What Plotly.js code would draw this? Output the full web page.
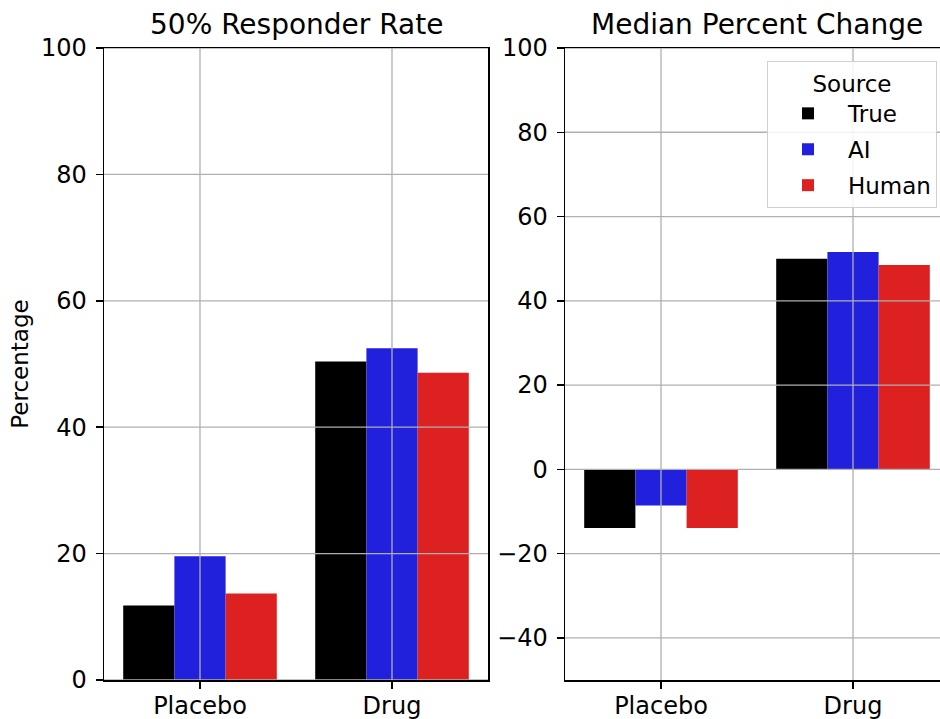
<!DOCTYPE html>
<html>
<head>
<meta charset="utf-8">
<script src="https://cdn.plot.ly/plotly-3.0.1.min.js"></script>
<style>
html,body{margin:0;padding:0;overflow:hidden;background:#fff;}
#chart{width:950px;height:719px;}
</style>
</head>
<body>
<div id="chart"></div>
<script>
// ---- data ----
const categories = ['Placebo', 'Drug'];
const sources = ['True', 'AI', 'Human'];
const responderTrue = [11.8, 50.4];
const responderAI = [19.6, 52.5];
const responderHuman = [13.7, 48.6];
const medianTrue = [-13.9, 50.0];
const medianAI = [-8.6, 51.6];
const medianHuman = [-13.9, 48.5];
const leftTicks = [0, 20, 40, 60, 80, 100];
const rightTicks = [-40, -20, 0, 20, 40, 60, 80, 100];
const colors = ['#000000', '#2020dd', '#dd2020'];

const W = 950, H = 719;
const fontFam = 'DejaVu Sans, sans-serif';
const tickFont = {family: fontFam, size: 24, color: '#000'};

const leftSeries = [responderTrue, responderAI, responderHuman];
const rightSeries = [medianTrue, medianAI, medianHuman];

const traces = [];
sources.forEach((s, i) => {
  traces.push({type: 'bar', x: categories, y: leftSeries[i], name: s,
    marker: {color: colors[i], line: {width: 0}}, xaxis: 'x', yaxis: 'y',
    legendgroup: s, showlegend: false});
});
sources.forEach((s, i) => {
  traces.push({type: 'bar', x: categories, y: rightSeries[i], name: s,
    marker: {color: colors[i], line: {width: 0}}, xaxis: 'x2', yaxis: 'y2',
    legendgroup: s, showlegend: true});
});

const yDom = [(H - 680) / H, (H - 48) / H];
const axBase = {
  showgrid: false, zeroline: false, showline: true, linecolor: '#000', linewidth: 1.5,
  mirror: true, ticks: 'outside', ticklen: 7, tickwidth: 1.5, tickcolor: '#000',
  tickfont: tickFont, fixedrange: true
};

// grid lines drawn above bars (as in the reference)
const shapes = [];
const gridStyle = {color: '#b0b0b0', width: 1.3};
leftTicks.forEach(v => shapes.push({type: 'line', xref: 'x domain', yref: 'y', x0: 0, x1: 1, y0: v, y1: v, line: gridStyle, layer: 'above'}));
rightTicks.forEach(v => shapes.push({type: 'line', xref: 'x2 domain', yref: 'y2', x0: 0, x1: 1, y0: v, y1: v, line: gridStyle, layer: 'above'}));
categories.forEach(c => {
  shapes.push({type: 'line', xref: 'x', yref: 'y domain', x0: c, x1: c, y0: 0, y1: 1, line: gridStyle, layer: 'above'});
  shapes.push({type: 'line', xref: 'x2', yref: 'y2 domain', x0: c, x1: c, y0: 0, y1: 1, line: gridStyle, layer: 'above'});
});

const layout = {
  width: W, height: H,
  margin: {l: 0, r: 0, t: 0, b: 0},
  paper_bgcolor: '#fff', plot_bgcolor: '#fff',
  barmode: 'group', bargap: 0.2, bargroupgap: 0,
  font: {family: fontFam, color: '#000'},
  xaxis: Object.assign({}, axBase, {domain: [104 / W, 488 / W], anchor: 'y', range: [-0.5, 1.5], type: 'category', ticklabelstandoff: -3}),
  yaxis: Object.assign({}, axBase, {domain: yDom, anchor: 'x', range: [0, 100], tickvals: leftTicks, ticklabelstandoff: 4,
    title: {text: 'Percentage', font: {family: fontFam, size: 23, color: '#000'}, standoff: 6}}),
  xaxis2: Object.assign({}, axBase, {domain: [565 / W, 949 / W], anchor: 'y2', range: [-0.5, 1.5], type: 'category', ticklabelstandoff: -3}),
  yaxis2: Object.assign({}, axBase, {domain: yDom, anchor: 'x2', range: [-50, 100], tickvals: rightTicks, ticklabelstandoff: 4}),
  shapes: shapes,
  annotations: [
    {text: '50% Responder Rate', xref: 'paper', yref: 'paper', x: 296 / W, y: (H - 24) / H,
     xanchor: 'center', yanchor: 'middle', showarrow: false, font: {family: fontFam, size: 28, color: '#000'}},
    {text: 'Median Percent Change', xref: 'paper', yref: 'paper', x: 757 / W, y: (H - 24) / H,
     xanchor: 'center', yanchor: 'middle', showarrow: false, font: {family: fontFam, size: 28, color: '#000'}}
  ],
  legend: {
    x: 937 / W, y: (H - 61) / H, xanchor: 'right', yanchor: 'top',
    bgcolor: 'rgba(255,255,255,0.85)', bordercolor: '#d0d0d0', borderwidth: 1,
    font: {family: fontFam, size: 23, color: '#000'},
    title: {text: 'Source', font: {family: fontFam, size: 23, color: '#000'}, side: 'top center'},
    traceorder: 'grouped', tracegroupgap: 3, itemwidth: 70,
    itemclick: false, itemdoubleclick: false
  }
};

Plotly.newPlot('chart', traces, layout, {displayModeBar: false, staticPlot: true});
</script>
</body>
</html>
